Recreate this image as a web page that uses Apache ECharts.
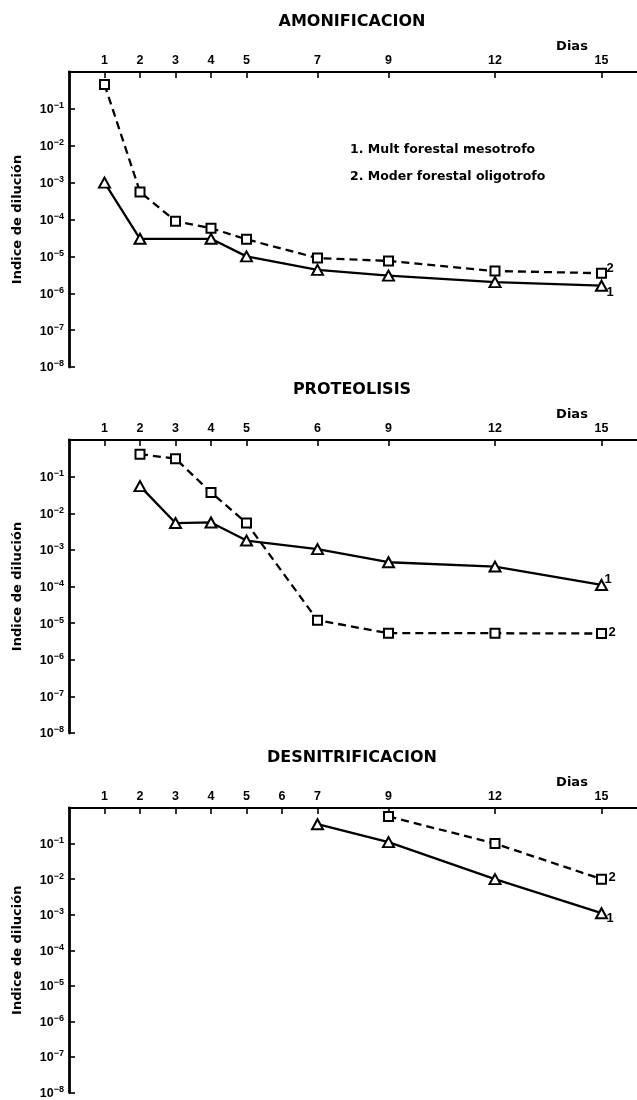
<!DOCTYPE html>
<html><head><meta charset="utf-8">
<script src="https://cdn.jsdelivr.net/npm/echarts@6/dist/echarts.min.js"></script>
<style>html,body{margin:0;padding:0;background:#fff}#c{width:637px;height:1100px}</style>
</head><body><div id="c"></div>
<script>
// ---- texts ----
const panelTitles = ['AMONIFICACION', 'PROTEOLISIS', 'DESNITRIFICACION'];
const legendLines = ['1. Mult forestal mesotrofo', '2. Moder forestal oligotrofo'];
const yAxisName = 'Indice de dilución';
const xUnit = 'Dias';
const seriesTags = ['1', '2'];

// ---- AMONIFICACION ----
const amonTickPos = [1, 2, 3, 4, 5, 7, 9, 12, 15];
const amonTickLabels = ['1', '2', '3', '4', '5', '7', '9', '12', '15'];
const amonDaysMull = [1, 2, 4, 5, 7, 9, 12, 15];
const amonMull = [1e-3, 3e-5, 3e-5, 1e-5, 4.3e-6, 3e-6, 2e-6, 1.6e-6];
const amonDaysModer = [1, 2, 3, 4, 5, 7, 9, 12, 15];
const amonModer = [0.46, 5.6e-4, 9e-5, 5.8e-5, 2.9e-5, 9e-6, 7.5e-6, 4e-6, 3.5e-6];

// ---- PROTEOLISIS (the printed axis labels the 7th-day position as "6") ----
const protTickPos = [1, 2, 3, 4, 5, 7, 9, 12, 15];
const protTickLabels = ['1', '2', '3', '4', '5', '6', '9', '12', '15'];
const protDaysMull = [2, 3, 4, 5, 7, 9, 12, 15];
const protMull = [0.055, 5.4e-3, 5.6e-3, 1.8e-3, 1.05e-3, 4.6e-4, 3.5e-4, 1.1e-4];
const protDaysModer = [2, 3, 4, 5, 7, 9, 12, 15];
const protModer = [0.41, 0.31, 0.037, 5.4e-3, 1.2e-5, 5.3e-6, 5.3e-6, 5.2e-6];

// ---- DESNITRIFICACION ----
const desnTickPos = [1, 2, 3, 4, 5, 6, 7, 9, 12, 15];
const desnTickLabels = ['1', '2', '3', '4', '5', '6', '7', '9', '12', '15'];
const desnDaysMull = [7, 9, 12, 15];
const desnMull = [0.35, 0.11, 0.01, 1.1e-3];
const desnDaysModer = [9, 12, 15];
const desnModer = [0.58, 0.1, 0.01];

const panels = [
  {tickPos: amonTickPos, tickLabels: amonTickLabels, d1: amonDaysMull, v1: amonMull, d2: amonDaysModer, v2: amonModer,
   top: 72, height: 295, off1: [0, 7], off2: [0, -5]},
  {tickPos: protTickPos, tickLabels: protTickLabels, d1: protDaysMull, v1: protMull, d2: protDaysModer, v2: protModer,
   top: 440, height: 293, off1: [-2, -6], off2: [2, -1]},
  {tickPos: desnTickPos, tickLabels: desnTickLabels, d1: desnDaysMull, v1: desnMull, d2: desnDaysModer, v2: desnModer,
   top: 808, height: 288, off1: [0, 5], off2: [2, -2]}
];

const FF = '"Liberation Sans", Arial, sans-serif';
const FD = '"DejaVu Sans", sans-serif';

const grids = [], xAxes = [], yAxes = [], series = [], graphics = [];
panels.forEach((p, i) => {
  grids.push({left: 69, right: 0, top: p.top, height: p.height, containLabel: false});
  xAxes.push({
    type: 'value', gridIndex: i, position: 'top', min: 0, max: 16,
    axisLine: {show: true, onZero: false, lineStyle: {color: '#000', width: 2.2}},
    axisTick: {show: true, inside: true, length: 6, customValues: p.tickPos, lineStyle: {color: '#000', width: 1.6}},
    axisLabel: {show: true, customValues: p.tickPos, margin: 5, color: '#000', fontFamily: FF, fontWeight: 'bold', fontSize: 12.5,
      formatter: v => { const k = p.tickPos.indexOf(v); return k >= 0 ? p.tickLabels[k] : ''; }},
    splitLine: {show: false}
  });
  yAxes.push({
    type: 'log', logBase: 10, gridIndex: i, min: 1e-8, max: 1,
    name: yAxisName, nameLocation: 'middle', nameGap: 45, nameRotate: 90,
    nameTextStyle: {color: '#000', fontFamily: FD, fontWeight: 'bold', fontSize: 13},
    axisLine: {show: true, onZero: false, lineStyle: {color: '#000', width: 2.8}},
    axisTick: {show: true, inside: true, length: 6, lineStyle: {color: '#000', width: 1.6}},
    axisLabel: {show: true, margin: 5, color: '#000',
      formatter: v => { const e = Math.round(Math.log10(v)); return e === 0 ? '' : '{b|10}{s|−' + (-e) + '}'; },
      rich: {
        b: {fontFamily: FF, fontWeight: 'bold', fontSize: 12.5, color: '#000', verticalAlign: 'bottom', lineHeight: 15},
        s: {fontFamily: FF, fontWeight: 'bold', fontSize: 9, color: '#000', verticalAlign: 'top', lineHeight: 15}
      }},
    splitLine: {show: false}
  });
  series.push({
    type: 'line', xAxisIndex: i, yAxisIndex: i,
    data: p.d1.map((d, k) => [d, p.v1[k]]),
    symbol: 'triangle', symbolSize: [11, 10],
    itemStyle: {color: '#fff', borderColor: '#000', borderWidth: 2},
    lineStyle: {color: '#000', width: 2.3, type: 'solid'},
    endLabel: {show: true, formatter: seriesTags[0], distance: 5, offset: p.off1, color: '#000',
      fontFamily: FF, fontWeight: 'bold', fontSize: 13},
    animation: false, silent: true
  });
  series.push({
    type: 'line', xAxisIndex: i, yAxisIndex: i,
    data: p.d2.map((d, k) => [d, p.v2[k]]),
    symbol: 'rect', symbolSize: 9,
    itemStyle: {color: '#fff', borderColor: '#000', borderWidth: 2},
    lineStyle: {color: '#000', width: 2.3, type: [8, 5]},
    endLabel: {show: true, formatter: seriesTags[1], distance: 5, offset: p.off2, color: '#000',
      fontFamily: FF, fontWeight: 'bold', fontSize: 13},
    animation: false, silent: true
  });
  graphics.push({type: 'text', x: 352, y: p.top - 50, style: {text: panelTitles[i], fill: '#000',
    font: 'bold 16px ' + FD, textAlign: 'center', textVerticalAlign: 'middle'}});
  graphics.push({type: 'text', x: 572, y: p.top - 25, style: {text: xUnit, fill: '#000',
    font: 'bold 13px ' + FD, textAlign: 'center', textVerticalAlign: 'middle'}});
});
graphics.push({type: 'text', x: 350, y: 150, style: {text: legendLines[0], fill: '#000',
  font: 'bold 12.5px ' + FD, textAlign: 'left', textVerticalAlign: 'middle'}});
graphics.push({type: 'text', x: 350, y: 177, style: {text: legendLines[1], fill: '#000',
  font: 'bold 12.5px ' + FD, textAlign: 'left', textVerticalAlign: 'middle'}});

const chart = echarts.init(document.getElementById('c'), null, {renderer: 'canvas'});
chart.setOption({
  animation: false,
  backgroundColor: '#fff',
  grid: grids, xAxis: xAxes, yAxis: yAxes, series: series, graphic: graphics
});
</script></body></html>
